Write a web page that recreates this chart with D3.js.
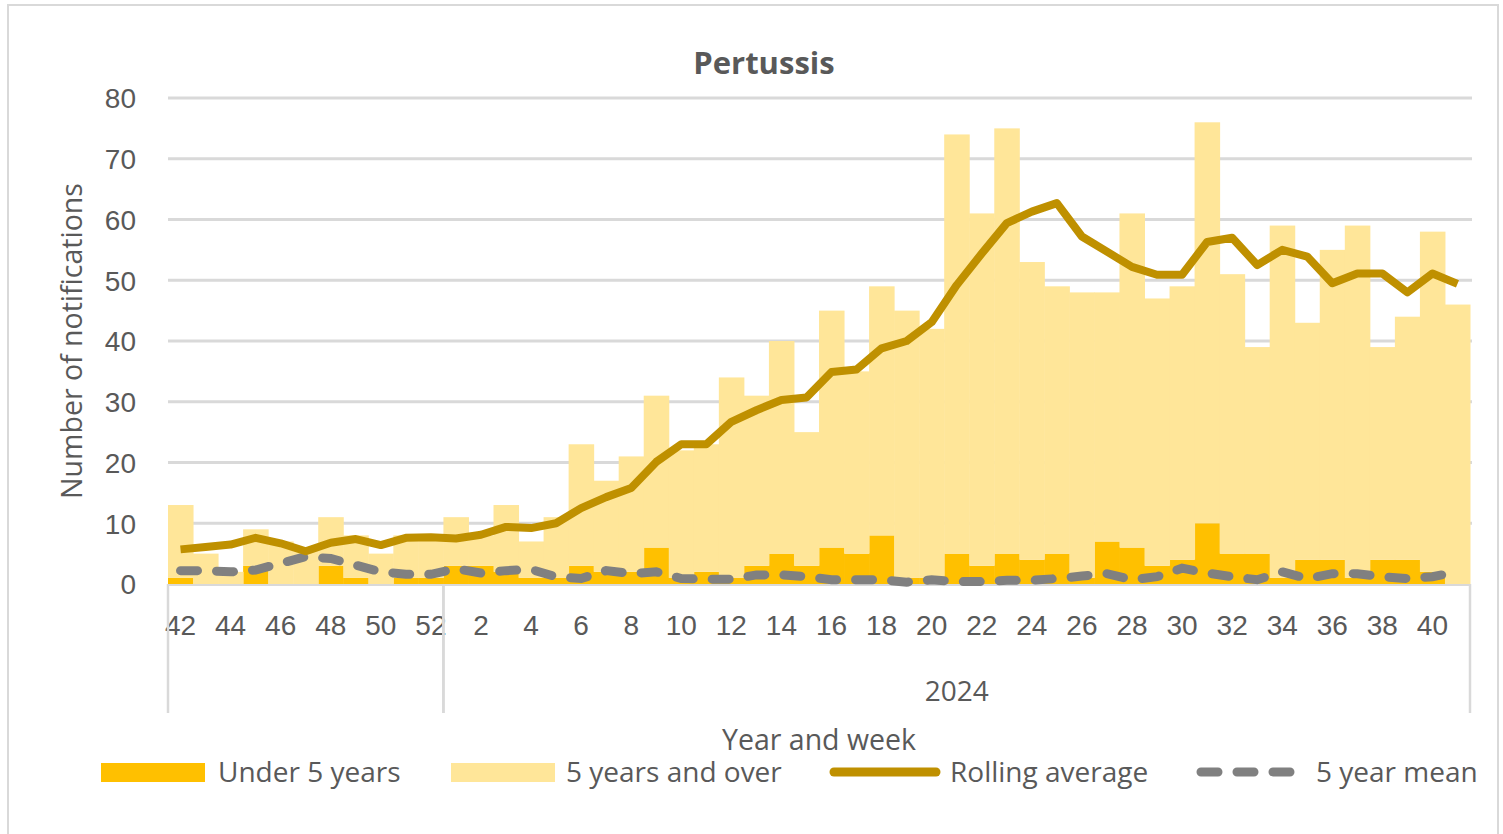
<!DOCTYPE html>
<html>
<head>
<meta charset="utf-8">
<script src="https://cdn.jsdelivr.net/npm/d3@7"></script>
<style>
  body { margin: 0; background: #fff; }
  svg { display: block; font-family: "Open Sans", sans-serif; }
</style>
</head>
<body>
<div id="chart"></div>
<script>
// week categories (2023 wk42-52, then 2024 wk1-41)
var weeks = [42, 43, 44, 45, 46, 47, 48, 49, 50, 51, 52,
    1, 2, 3, 4, 5, 6, 7, 8, 9, 10, 11, 12, 13, 14, 15, 16, 17, 18, 19, 20,
    21, 22, 23, 24, 25, 26, 27, 28, 29, 30, 31, 32, 33, 34, 35, 36, 37, 38, 39, 40, 41];

var under5 = [1, 0, 0, 3, 0, 0, 3, 1, 0, 1, 1,
    3, 3, 2, 1, 1, 3, 2, 2, 6, 1, 2, 1, 3, 5, 3, 6, 5, 8, 1, 1,
    5, 3, 5, 4, 5, 1, 7, 6, 3, 4, 10, 5, 5, 1, 4, 4, 1, 4, 4, 2, 0];

var over5 = [12, 5, 2, 6, 7, 6, 8, 7, 5, 7, 7,
    8, 5, 11, 6, 10, 20, 15, 19, 25, 21, 21, 33, 28, 35, 22, 39, 30, 41, 44, 41,
    69, 58, 70, 49, 44, 47, 41, 55, 44, 45, 66, 46, 34, 58, 39, 51, 58, 35, 40, 56, 46];

var rollingAvg = [5.7, 6.1, 6.5, 7.6, 6.7, 5.4, 6.8, 7.4, 6.4, 7.6, 7.7,
    7.5, 8.1, 9.4, 9.2, 10.0, 12.5, 14.3, 15.8, 20.1, 23.0, 23.0, 26.7, 28.6, 30.3, 30.7,
    34.9, 35.3, 38.8, 40.0, 43.1, 49.2, 54.4, 59.4, 61.3, 62.7, 57.2, 54.7, 52.2, 50.9,
    50.9, 56.3, 57.0, 52.5, 55.0, 53.9, 49.5, 51.1, 51.1, 48.0, 51.1, 49.4];

var fiveYearMean = [2.2, 2.2, 2.0, 2.3, 3.4, 4.5, 4.2, 3.1, 2.0, 1.6, 1.6,
    2.5, 1.8, 2.2, 2.4, 1.2, 0.9, 2.2, 1.7, 2.0, 0.9, 0.8, 0.8, 1.5, 1.5, 1.2,
    0.7, 0.7, 0.7, 0.3, 0.7, 0.4, 0.4, 0.6, 0.6, 0.9, 1.3, 1.7, 0.7, 1.2,
    2.6, 1.8, 1.2, 0.7, 2.0, 0.9, 1.7, 1.7, 1.2, 0.9, 1.2, 2.0];

// year groups on the category axis
var yearLabels = ["", "2024"];
var yearFirstWeek = [0, 11];
var yearLastWeek = [10, 51];

var yTicks = [0, 10, 20, 30, 40, 50, 60, 70, 80];

var colUnder = "#FFC000",
    colOver = "#FFE699",
    colRolling = "#BF9000",
    colMean = "#808080",
    colGrid = "#d9d9d9",
    colText = "#595959";

var fontSize = "28px";

var width = 1503, height = 834;
var plot = { left: 168, right: 1470, top: 98, bottom: 584 };

var svg = d3.select("#chart").append("svg")
    .attr("width", width)
    .attr("height", height);

// chart frame
svg.append("rect")
    .attr("x", 8).attr("y", 5)
    .attr("width", 1490).attr("height", 845)
    .attr("fill", "none")
    .attr("stroke", colGrid)
    .attr("stroke-width", 2);

var x = d3.scaleBand()
    .domain(d3.range(weeks.length))
    .range([plot.left, plot.right])
    .padding(0);

var y = d3.scaleLinear()
    .domain([0, 80])
    .range([plot.bottom, plot.top]);

// gridlines
svg.append("g")
    .selectAll("line")
    .data(yTicks.slice(1))
    .enter().append("line")
    .attr("x1", plot.left).attr("x2", plot.right + 2)
    .attr("y1", function(d) { return y(d); })
    .attr("y2", function(d) { return y(d); })
    .attr("stroke", colGrid)
    .attr("stroke-width", 3);

// y axis labels
var yAxis = svg.append("g")
    .attr("transform", "translate(" + (plot.left - 32) + ",0)")
    .call(d3.axisLeft(y).tickValues(yTicks).tickSize(0).tickPadding(0));
yAxis.select(".domain").remove();
yAxis.selectAll("text")
    .attr("fill", colText)
    .style("font-size", fontSize)
    .attr("dy", "0.35em");

// stacked bars
var stacked = weeks.map(function(w, i) {
    return { i: i, under: under5[i], over: over5[i] };
});
var series = d3.stack().keys(["under", "over"])(stacked);
var barColors = { under: colUnder, over: colOver };

svg.append("g")
    .selectAll("g")
    .data(series)
    .enter().append("g")
    .attr("fill", function(s) { return barColors[s.key]; })
    .selectAll("rect")
    .data(function(s) { return s; })
    .enter().append("rect")
    .attr("x", function(d) { return x(d.data.i); })
    .attr("width", x.bandwidth() + 0.5)
    .attr("y", function(d) { return y(d[1]); })
    .attr("height", function(d) { return y(d[0]) - y(d[1]); });

// x axis line
svg.append("line")
    .attr("x1", plot.left).attr("x2", plot.right + 1)
    .attr("y1", plot.bottom + 1).attr("y2", plot.bottom + 1)
    .attr("stroke", colGrid)
    .attr("stroke-width", 2);

// week labels, every second week
var xAxis = svg.append("g")
    .attr("transform", "translate(0," + (plot.bottom + 28) + ")")
    .call(d3.axisBottom(x)
        .tickValues(d3.range(weeks.length).filter(function(i) { return i % 2 === 0; }))
        .tickFormat(function(i) { return weeks[i]; })
        .tickSize(0));
xAxis.select(".domain").remove();
xAxis.selectAll("text")
    .attr("fill", colText)
    .style("font-size", fontSize);

// year group separators and labels
yearLabels.forEach(function(label, k) {
    var x0 = x(yearFirstWeek[k]);
    var x1 = x(yearLastWeek[k]) + x.bandwidth();
    [x0, x1].forEach(function(xx) {
        svg.append("line")
            .attr("x1", xx).attr("x2", xx)
            .attr("y1", plot.bottom).attr("y2", 713)
            .attr("stroke", colGrid)
            .attr("stroke-width", 2.5);
    });
    svg.append("text")
        .attr("x", (x0 + x1) / 2)
        .attr("y", 691)
        .attr("dy", "0.35em")
        .attr("text-anchor", "middle")
        .attr("fill", colText)
        .style("font-size", fontSize)
        .text(label);
});

// lines
var line = function(values) {
    return d3.line()
        .x(function(d, i) { return x(i) + x.bandwidth() / 2; })
        .y(function(d) { return y(d); })(values);
};

svg.append("path")
    .attr("d", line(fiveYearMean))
    .attr("fill", "none")
    .attr("stroke", colMean)
    .attr("stroke-width", 9)
    .attr("stroke-linecap", "round")
    .attr("stroke-dasharray", "17 19");

svg.append("path")
    .attr("d", line(rollingAvg))
    .attr("fill", "none")
    .attr("stroke", colRolling)
    .attr("stroke-width", 8)
    .attr("stroke-linejoin", "round");

// titles
svg.append("text")
    .attr("x", 764).attr("y", 63)
    .attr("dy", "0.35em")
    .attr("text-anchor", "middle")
    .attr("fill", colText)
    .style("font-size", "31px")
    .style("font-weight", "bold")
    .text("Pertussis");

svg.append("text")
    .attr("transform", "translate(72,341) rotate(-90)")
    .attr("dy", "0.35em")
    .attr("text-anchor", "middle")
    .attr("fill", colText)
    .style("font-size", "28.5px")
    .text("Number of notifications");

svg.append("text")
    .attr("x", 819).attr("y", 740)
    .attr("dy", "0.35em")
    .attr("text-anchor", "middle")
    .attr("fill", colText)
    .style("font-size", "28.5px")
    .text("Year and week");

// legend
var legendItems = [
    { label: "Under 5 years", type: "rect", color: colUnder, x: 101, tx: 218 },
    { label: "5 years and over", type: "rect", color: colOver, x: 451, tx: 566 },
    { label: "Rolling average", type: "line", color: colRolling, x: 834, tx: 950 },
    { label: "5 year mean", type: "dash", color: colMean, x: 1201, tx: 1316 }
];
var legendY = 772;
legendItems.forEach(function(item) {
    if (item.type === "rect") {
        svg.append("rect")
            .attr("x", item.x).attr("y", legendY - 9)
            .attr("width", 104).attr("height", 19)
            .attr("fill", item.color);
    } else {
        svg.append("line")
            .attr("x1", item.x).attr("x2", item.x + 102)
            .attr("y1", legendY).attr("y2", legendY)
            .attr("stroke", item.color)
            .attr("stroke-width", 9)
            .attr("stroke-linecap", "round")
            .attr("stroke-dasharray", item.type === "dash" ? "17 19" : null);
    }
    svg.append("text")
        .attr("x", item.tx).attr("y", legendY)
        .attr("dy", "0.35em")
        .attr("fill", colText)
        .style("font-size", fontSize)
        .text(item.label);
});
</script>
</body>
</html>
